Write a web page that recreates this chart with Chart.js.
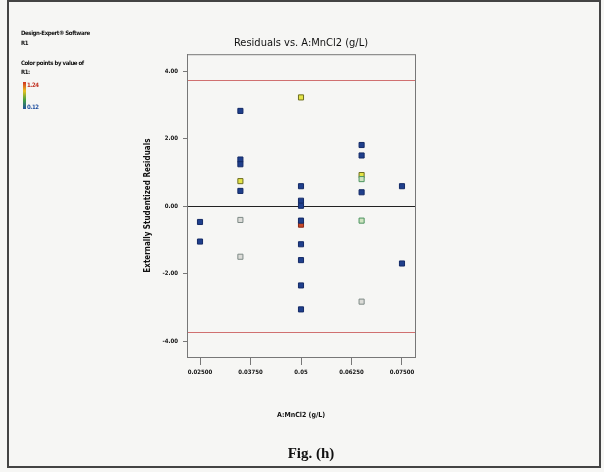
<!DOCTYPE html>
<html>
<head>
<meta charset="utf-8">
<script src="https://cdn.jsdelivr.net/npm/chart.js@4.4.1/dist/chart.umd.min.js"></script>
<style>
  body { margin: 0; background: #f6f6f4; }
  #wrap { position: relative; width: 604px; height: 472px; }
  canvas { position: absolute; left: 0; top: 0; }
  .note { position: absolute; font-family: 'Liberation Sans Narrow', 'DejaVu Sans Condensed', sans-serif; font-weight: bold; font-size: 6px; letter-spacing: -0.4px; color: #111; white-space: nowrap; }
  #bar { position: absolute; left: 23px; top: 82px; width: 3px; height: 27px; background: linear-gradient(#d03020, #e8c020, #40a040, #2050a0); }
  #caption { position: absolute; left: 0; width: 622px; top: 445px; text-align: center; font-family: 'Liberation Serif', serif; font-weight: bold; font-size: 15px; color: #111; }
</style>
</head>
<body>
<div id="wrap">
  <canvas id="resChart" width="604" height="472"></canvas>
  <div class="note" style="left:21px; top:29px;">Design-Expert® Software</div>
  <div class="note" style="left:21px; top:39px;">R1</div>
  <div class="note" style="left:21px; top:59px;">Color points by value of</div>
  <div class="note" style="left:21px; top:68px;">R1:</div>
  <div id="bar"></div>
  <div class="note" style="left:27px; top:81px; color:#c03020;">1.24</div>
  <div class="note" style="left:27px; top:103px; color:#2050a0;">0.12</div>
  <div id="caption">Fig. (h)</div>
</div>
<script>
// axis ticks
const xTickValues = [0.025, 0.0375, 0.05, 0.0625, 0.075];
const xTickLabels = ['0.02500', '0.03750', '0.05', '0.06250', '0.07500'];
const yTickValues = [4, 2, 0, -2, -4];
const limitValues = [3.73, -3.73];

// residuals, grouped by point colour: [A, residual]
const bluePoints = [
  [0.025, -0.47], [0.025, -1.05],
  [0.035, 2.82], [0.035, 1.38], [0.035, 1.24], [0.035, 0.45],
  [0.05, 0.59], [0.05, 0.16], [0.05, 0.01], [0.05, -0.43],
  [0.05, -1.13], [0.05, -1.60], [0.05, -2.35], [0.05, -3.06],
  [0.065, 1.81], [0.065, 1.50], [0.065, 0.41],
  [0.075, 0.59], [0.075, -1.70]
];
const yellowPoints = [[0.05, 3.22], [0.035, 0.74], [0.065, 0.92]];
const greenPoints = [[0.065, 0.80], [0.065, -0.43]];
const grayPoints = [[0.035, -0.41], [0.035, -1.50], [0.065, -2.83]];
const redPoints = [[0.05, -0.55]];

const toXY = pts => pts.map(p => ({ x: p[0], y: p[1] }));

function group(pts, fill, edge) {
  return {
    data: toXY(pts),
    pointStyle: 'rect',
    pointRadius: 3.6,
    backgroundColor: fill,
    borderColor: edge,
    borderWidth: 1
  };
}

const narrow = "'Liberation Sans Narrow', 'DejaVu Sans Condensed', sans-serif";
const tickFont = { family: narrow, size: 6, weight: 'bold' };

// frame, reference lines and background
const decor = {
  id: 'decor',
  beforeDraw(chart) {
    const c = chart.ctx;
    c.save();
    c.fillStyle = '#f6f6f4';
    c.fillRect(0, 0, chart.width, chart.height);
    c.restore();
  },
  beforeDatasetsDraw(chart) {
    const c = chart.ctx;
    const a = chart.chartArea;
    const y = chart.scales.y;
    c.save();
    c.lineWidth = 1;
    c.strokeStyle = '#d07070';
    limitValues.forEach(v => {
      const py = Math.round(y.getPixelForValue(v)) + 0.5;
      c.beginPath(); c.moveTo(a.left, py); c.lineTo(a.right, py); c.stroke();
    });
    c.strokeStyle = '#222';
    const z = Math.round(y.getPixelForValue(0)) + 0.5;
    c.beginPath(); c.moveTo(a.left, z); c.lineTo(a.right, z); c.stroke();
    c.strokeStyle = '#777';
    c.strokeRect(a.left + 0.5, a.top + 0.5, a.right - a.left, a.bottom - a.top);
    c.restore();
  },
  afterDraw(chart) {
    const c = chart.ctx;
    c.save();
    c.strokeStyle = '#444';
    c.lineWidth = 2;
    c.strokeRect(8, 1, 592, 466);
    c.restore();
  }
};

new Chart(document.getElementById('resChart'), {
  type: 'scatter',
  data: {
    datasets: [
      group(bluePoints, '#1f3f8c', '#142a66'),
      group(grayPoints, '#dcdcd8', '#7e8a86'),
      group(greenPoints, '#cfe4c0', '#4c9460'),
      group(yellowPoints, '#e4e448', '#6e6e20'),
      group(redPoints, '#c84a2a', '#8a2a18')
    ]
  },
  options: {
    responsive: false,
    animation: false,
    layout: { padding: { left: 120, right: 189, top: 0, bottom: 47 } },
    plugins: {
      legend: { display: false },
      tooltip: { enabled: false },
      title: {
        display: true,
        fullSize: false,
        text: 'Residuals vs. A:MnCl2 (g/L)',
        color: '#111',
        font: { family: narrow, size: 11, weight: 'normal' },
        padding: { top: 37, bottom: 4 }
      }
    },
    scales: {
      x: {
        type: 'linear',
        min: 0.02178,
        max: 0.07822,
        afterBuildTicks: s => { s.ticks = xTickValues.map(v => ({ value: v })); },
        afterFit: s => { s.height = 68; },
        ticks: {
          autoSkip: false,
          maxRotation: 0,
          padding: 4,
          color: '#111',
          font: tickFont,
          callback: (v, i) => xTickLabels[i]
        },
        grid: { drawOnChartArea: false, tickLength: 8, color: '#777' },
        border: { color: '#777' },
        title: {
          display: true,
          text: 'A:MnCl2 (g/L)',
          color: '#111',
          font: { family: narrow, size: 7, weight: 'bold' },
          padding: { top: 0, bottom: 6 }
        }
      },
      y: {
        min: -4.47,
        max: 4.5,
        afterBuildTicks: s => { s.ticks = yTickValues.map(v => ({ value: v })); },
        afterFit: s => { s.width = 67; },
        ticks: {
          autoSkip: false,
          padding: 5,
          color: '#111',
          font: tickFont,
          callback: v => v.toFixed(2)
        },
        grid: { drawOnChartArea: false, tickLength: 4, color: '#777' },
        border: { color: '#777' },
        title: {
          display: true,
          text: 'Externally Studentized Residuals',
          color: '#111',
          font: { family: "'DejaVu Sans Condensed', 'DejaVu Sans', sans-serif", size: 8, weight: 'bold' },
          padding: { top: 23, bottom: 0 }
        }
      }
    }
  },
  plugins: [decor]
});
</script>
</body>
</html>
